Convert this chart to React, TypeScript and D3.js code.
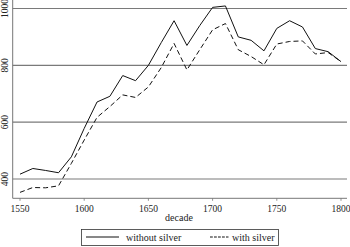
import React, { useEffect, useRef } from "react";
import * as d3 from "d3";

const decades = [1550,1560,1570,1580,1590,1600,1610,1620,1630,1640,1650,1660,1670,1680,1690,1700,1710,1720,1730,1740,1750,1760,1770,1780,1790,1800];
const withoutSilver = [417,437,430,422,478,578,671,691,764,746,800,880,957,870,940,1004,1009,900,888,851,930,957,935,859,848,813];
const withSilver = [353,370,369,376,455,537,617,655,696,687,724,792,877,784,855,925,947,855,831,802,875,884,886,840,845,813];
const yTicks = [400,600,800,1000];
const xTicks = [1550,1600,1650,1700,1750,1800];
const seriesNames = ["without silver","with silver"];

const W = 350, H = 247;
const FONT = "'Liberation Serif', 'DejaVu Serif', serif";

export default function App() {
  const ref = useRef<SVGSVGElement>(null);
  useEffect(() => {
    const svg = d3.select(ref.current);
    svg.selectAll("*").remove();
    const x = d3.scaleLinear().domain([1550, 1800]).range([20, 341]);
    const y = d3.scaleLinear().domain([400, 1000]).range([179, 8.5]);
    const left = 12.7, right = 347, bottom = 198.3;

    // gridlines
    svg.append("g").selectAll("line").data(yTicks).join("line")
      .attr("x1", left).attr("x2", right)
      .attr("y1", d => y(d)).attr("y2", d => y(d))
      .attr("stroke", "#7a7a7a").attr("stroke-width", 1.2);

    // y tick labels
    svg.append("g").selectAll("text").data(yTicks).join("text")
      .attr("transform", d => `translate(7.5,${y(d)}) rotate(-90)`)
      .attr("text-anchor", "middle")
      .attr("font-family", FONT).attr("font-size", 9.5).attr("fill", "#222")
      .text(d => d);

    // axes lines
    svg.append("line").attr("x1", left).attr("x2", left).attr("y1", 0).attr("y2", bottom)
      .attr("stroke", "#777").attr("stroke-width", 1);
    svg.append("line").attr("x1", left).attr("x2", right).attr("y1", bottom).attr("y2", bottom)
      .attr("stroke", "#777").attr("stroke-width", 1);

    // x ticks
    svg.append("g").selectAll("line").data(xTicks).join("line")
      .attr("x1", d => x(d)).attr("x2", d => x(d))
      .attr("y1", bottom).attr("y2", bottom + 2.5)
      .attr("stroke", "#777").attr("stroke-width", 0.8);
    svg.append("g").selectAll("text").data(xTicks).join("text")
      .attr("x", d => x(d)).attr("y", 212)
      .attr("text-anchor", "middle")
      .attr("font-family", FONT).attr("font-size", 9.5).attr("fill", "#222")
      .text(d => d);

    svg.append("text").attr("x", 179).attr("y", 221)
      .attr("text-anchor", "middle")
      .attr("font-family", FONT).attr("font-size", 10).attr("fill", "#222")
      .text("decade");

    const line = d3.line<number>().x((_, i) => x(decades[i])).y(d => y(d));
    svg.append("path").attr("d", line(withoutSilver)!)
      .attr("fill", "none").attr("stroke", "#111").attr("stroke-width", 1);
    svg.append("path").attr("d", line(withSilver)!)
      .attr("fill", "none").attr("stroke", "#111").attr("stroke-width", 1)
      .attr("stroke-dasharray", "5,3");

    // legend
    const lg = svg.append("g");
    lg.append("rect").attr("x", 81.5).attr("y", 229.5).attr("width", 197).attr("height", 16)
      .attr("fill", "white").attr("stroke", "#333").attr("stroke-width", 0.8);
    lg.append("line").attr("x1", 86).attr("x2", 119).attr("y1", 237).attr("y2", 237)
      .attr("stroke", "#111").attr("stroke-width", 1);
    lg.append("text").attr("x", 126).attr("y", 240.5)
      .attr("font-family", FONT).attr("font-size", 10).attr("fill", "#222")
      .text(seriesNames[0]);
    lg.append("line").attr("x1", 210).attr("x2", 228.5).attr("y1", 237).attr("y2", 237)
      .attr("stroke", "#111").attr("stroke-width", 1).attr("stroke-dasharray", "2.8,1.2");
    lg.append("text").attr("x", 232).attr("y", 240.5)
      .attr("font-family", FONT).attr("font-size", 10).attr("fill", "#222")
      .text(seriesNames[1]);
  }, []);
  return (
    <svg ref={ref} width={W} height={H}
      style={{ position: "absolute", left: 0, top: 0, background: "white" }} />
  );
}
